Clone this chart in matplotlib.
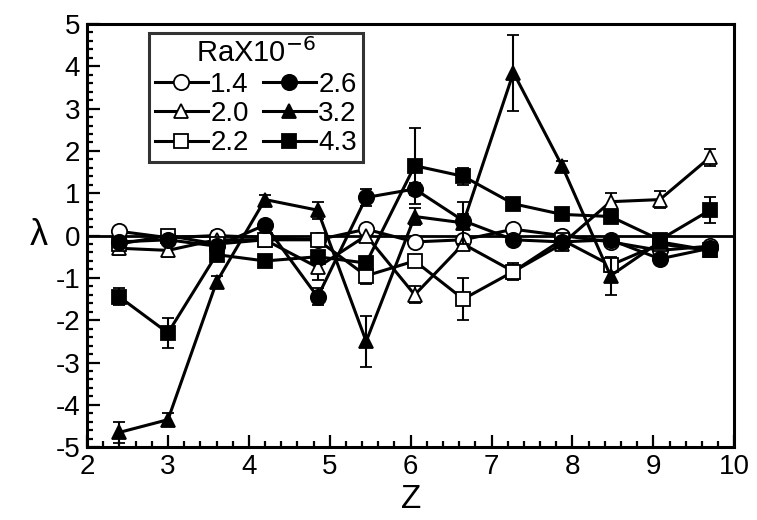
import numpy as np
import matplotlib
matplotlib.use('Agg')
import matplotlib.pyplot as plt
from matplotlib.ticker import MultipleLocator
from matplotlib.lines import Line2D

plt.rcParams['font.family'] = ['Liberation Sans', 'DejaVu Sans']
plt.rcParams['axes.unicode_minus'] = False

z = [2.4, 3.0, 3.6, 4.2, 4.85, 5.45, 6.05, 6.65, 7.27, 7.87, 8.47, 9.08, 9.7]

# lambda values for each Ra x 10^-6
lam_14 = [0.1, -0.05, 0.0, -0.05, -0.1, 0.15, -0.15, -0.1, 0.15, 0.0, -0.15, -0.35, -0.25]
lam_20 = [-0.3, -0.35, -0.1, -0.1, -0.75, 0.0, -1.4, -0.2, -0.85, -0.2, 0.8, 0.85, 1.85]
lam_22 = [-0.2, 0.0, -0.2, -0.1, -0.1, -0.95, -0.6, -1.5, -0.85, -0.1, -0.7, -0.2, -0.35]
lam_26 = [-0.15, -0.1, -0.25, 0.25, -1.45, 0.9, 1.1, 0.35, -0.1, -0.15, -0.1, -0.55, -0.3]
lam_32 = [-4.65, -4.35, -1.1, 0.85, 0.6, -2.5, 0.45, 0.3, 3.85, 1.65, -0.95, -0.15, -0.35]
lam_43 = [-1.45, -2.3, -0.45, -0.6, -0.5, -0.65, 1.65, 1.4, 0.75, 0.5, 0.45, -0.1, 0.6]

err_14 = [0.1, 0.1, 0.1, 0.1, 0.1, 0.1, 0.1, 0.1, 0.1, 0.1, 0.1, 0.1, 0.1]
err_20 = [0.15, 0.15, 0.1, 0.1, 0.3, 0.1, 0.2, 0.15, 0.15, 0.1, 0.2, 0.2, 0.2]
err_22 = [0.1, 0.1, 0.1, 0.1, 0.1, 0.2, 0.15, 0.5, 0.2, 0.1, 0.15, 0.1, 0.1]
err_26 = [0.1, 0.1, 0.1, 0.1, 0.2, 0.2, 0.15, 0.15, 0.1, 0.1, 0.1, 0.1, 0.1]
err_32 = [0.25, 0.15, 0.15, 0.1, 0.2, 0.6, 0.2, 0.5, 0.9, 0.1, 0.45, 0.1, 0.1]
err_43 = [0.2, 0.35, 0.1, 0.1, 0.1, 0.15, 0.9, 0.2, 0.1, 0.1, 0.15, 0.1, 0.3]

labels = ['1.4', '2.0', '2.2', '2.6', '3.2', '4.3']
markers = ['o', '^', 's', 'o', '^', 's']
filled = [False, False, False, True, True, True]
series = [lam_14, lam_20, lam_22, lam_26, lam_32, lam_43]
errors = [err_14, err_20, err_22, err_26, err_32, err_43]

fig = plt.figure(figsize=(7.57, 5.2), dpi=100)
ax = fig.add_axes([0.115, 0.140, 0.855, 0.814])

ax.axhline(0, color='black', lw=2, zorder=1)

handles = []
for lam, err, lab, m, f in zip(series, errors, labels, markers, filled):
    ms = 11 if m == 'o' else 10
    fc = 'black' if f else 'white'
    ax.errorbar(z, lam, yerr=err, color='black', lw=2.2, marker=m,
                markersize=ms, markerfacecolor=fc,
                markeredgecolor='black', markeredgewidth=1.3,
                ecolor='black', elinewidth=1.5, capsize=4, capthick=1.5,
                zorder=3 if f else 2)
    handles.append(Line2D([], [], color='black', lw=2.2, marker=m,
                          markersize=ms, markerfacecolor=fc,
                          markeredgecolor='black', markeredgewidth=1.3))

ax.set_xlim(2, 10)
ax.set_ylim(-5, 5)
ax.xaxis.set_major_locator(MultipleLocator(1))
ax.xaxis.set_minor_locator(MultipleLocator(0.2))
ax.yaxis.set_major_locator(MultipleLocator(1))
ax.yaxis.set_minor_locator(MultipleLocator(0.2))
ax.tick_params(which='both', direction='in', width=1.6, labelsize=20)
ax.tick_params(which='major', length=9, pad=5)
ax.tick_params(which='minor', length=4.5)
for sp in ax.spines.values():
    sp.set_linewidth(2.2)

ax.set_xlabel('Z', fontsize=24, labelpad=3)
ax.set_ylabel('λ', fontsize=26, labelpad=12, rotation=0, va='center')

leg = ax.legend(handles, labels, ncol=2, loc='upper left',
                bbox_to_anchor=(0.096, 0.979), borderaxespad=0,
                title='RaX10$^{-6}$', title_fontsize=21, fontsize=20,
                frameon=True, fancybox=False, edgecolor='black',
                handlelength=1.9, handletextpad=0.1, columnspacing=0.5,
                labelspacing=0.12, borderpad=0.2)
leg.get_frame().set_linewidth(2.2)

fig.savefig('out.png', dpi=100)
